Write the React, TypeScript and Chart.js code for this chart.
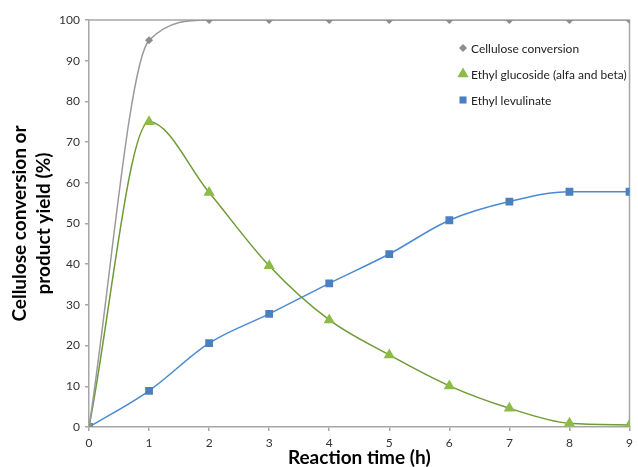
import React, { useEffect, useRef } from 'react';
import { Chart, registerables } from 'chart.js';

Chart.register(...registerables);

const hours = [0, 1, 2, 3, 4, 5, 6, 7, 8, 9];
const celluloseConversion = [0, 95, 100, 100, 100, 100, 100, 100, 100, 100];
const ethylGlucoside = [0, 75, 57.6, 39.6, 26.3, 17.7, 10.1, 4.6, 0.9, 0.5];
const ethylLevulinate = [0, 8.9, 20.6, 27.8, 35.3, 42.5, 50.8, 55.4, 57.8, 57.8];
const seriesNames = ['Cellulose conversion', 'Ethyl glucoside (alfa and beta)', 'Ethyl levulinate'];
const xTitle = 'Reaction time (h)';
const yTitle = ['Cellulose conversion or', 'product yield (%)'];

const AXIS = '#a6a6a6';
const FONT = 'Lato, "Open Sans", sans-serif';

function drawMarker(ctx: CanvasRenderingContext2D, style: string, x: number, y: number, r: number, color: string) {
  ctx.save();
  ctx.fillStyle = color;
  ctx.beginPath();
  if (style === 'rectRot') {
    ctx.moveTo(x, y - r);
    ctx.lineTo(x + r, y);
    ctx.lineTo(x, y + r);
    ctx.lineTo(x - r, y);
  } else if (style === 'triangle') {
    ctx.moveTo(x, y - r);
    ctx.lineTo(x + r * 0.866, y + r * 0.5);
    ctx.lineTo(x - r * 0.866, y + r * 0.5);
  } else {
    const s = r * Math.SQRT1_2;
    ctx.rect(x - s, y - s, 2 * s, 2 * s);
  }
  ctx.closePath();
  ctx.fill();
  ctx.restore();
}

const framePlugin = {
  id: 'frameAndLegend',
  beforeDatasetsDraw(chart: any) {
    const { ctx, chartArea } = chart;
    ctx.save();
    ctx.strokeStyle = AXIS;
    ctx.lineWidth = 1.5;
    ctx.beginPath();
    ctx.moveTo(chartArea.left, chartArea.top);
    ctx.lineTo(chartArea.right, chartArea.top);
    ctx.lineTo(chartArea.right, chartArea.bottom);
    ctx.stroke();
    ctx.restore();
  },
  afterDatasetsDraw(chart: any) {
    const { ctx } = chart;
    const x0 = 463;
    const ys = [48, 74, 100];
    ctx.save();
    ctx.font = '12px ' + FONT;
    ctx.fillStyle = '#222';
    ctx.textBaseline = 'middle';
    chart.data.datasets.forEach((ds: any, i: number) => {
      drawMarker(ctx, ds.pointStyle, x0, ys[i], ds.pointStyle === 'rectRot' ? 4 : ds.pointStyle === 'triangle' ? 6.5 : 5, ds.pointBackgroundColor);
      ctx.fillText(ds.label, x0 + 8, ys[i] + 1);
    });
    ctx.restore();
  },
};

export default function App() {
  const ref = useRef<HTMLCanvasElement | null>(null);
  useEffect(() => {
    if (!ref.current) return;
    const mk = (vals: number[]) => hours.map((h, i) => ({ x: h, y: vals[i] }));
    const chart = new Chart(ref.current, {
      type: 'line',
      data: {
        datasets: [
          {
            label: seriesNames[0],
            data: mk(celluloseConversion),
            borderColor: '#9a9a9a',
            borderWidth: 1.5,
            pointStyle: 'rectRot',
            pointRadius: 4,
            pointBackgroundColor: '#8c8c8c',
            pointBorderWidth: 0,
            cubicInterpolationMode: 'monotone',
          },
          {
            label: seriesNames[1],
            data: mk(ethylGlucoside),
            borderColor: '#6e9b34',
            borderWidth: 1.5,
            pointStyle: 'triangle',
            pointRadius: 6.5,
            pointBackgroundColor: '#8dbb48',
            pointBorderWidth: 0,
            cubicInterpolationMode: 'monotone',
          },
          {
            label: seriesNames[2],
            data: mk(ethylLevulinate),
            borderColor: '#4a8ad4',
            borderWidth: 1.5,
            pointStyle: 'rect',
            pointRadius: 5.5,
            pointBackgroundColor: '#4a7fc0',
            pointBorderWidth: 0,
            cubicInterpolationMode: 'monotone',
          },
        ] as any,
      },
      options: {
        animation: false,
        responsive: false,
        devicePixelRatio: 1,
        layout: { padding: { top: 20, right: 6, left: 0, bottom: 0 } },
        plugins: { legend: { display: false }, tooltip: { enabled: false } },
        scales: {
          x: {
            type: 'linear',
            min: 0,
            max: 9,
            afterFit: (s: any) => { s.height = 40; },
            ticks: { stepSize: 1, color: '#333', font: { family: FONT, size: 12 }, padding: 5, maxRotation: 0 },
            grid: { drawOnChartArea: false, color: AXIS, tickLength: 4, lineWidth: 1.5 },
            border: { color: AXIS, width: 1.5 },
            title: {
              display: true,
              text: xTitle,
              color: '#000',
              font: { family: FONT, size: 19, weight: 'bold', lineHeight: 1 },
              padding: { top: 0, bottom: 0 },
            },
          },
          y: {
            type: 'linear',
            min: 0,
            max: 100,
            afterFit: (s: any) => { s.width = 89; },
            ticks: { stepSize: 10, color: '#333', font: { family: FONT, size: 12 }, padding: 5 },
            grid: { drawOnChartArea: false, color: AXIS, tickLength: 4, lineWidth: 1.5 },
            border: { color: AXIS, width: 1.5 },
            title: {
              display: true,
              text: yTitle,
              color: '#000',
              font: { family: FONT, size: 19, weight: 'bold', lineHeight: 1.26 },
              padding: { top: 8, bottom: 0 },
            },
          },
        },
      } as any,
      plugins: [framePlugin],
    });
    return () => chart.destroy();
  }, []);
  return (
    <div style={{ position: 'fixed', left: 0, top: 0, width: 638, height: 467, background: '#fff' }}>
      <canvas ref={ref} width={638} height={467} style={{ width: 638, height: 467 }} />
    </div>
  );
}
